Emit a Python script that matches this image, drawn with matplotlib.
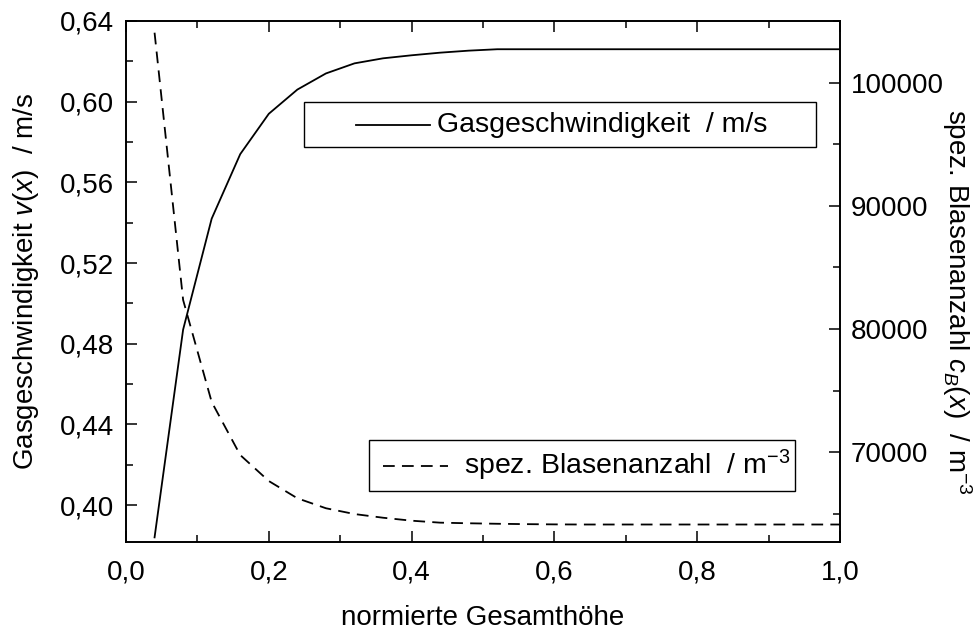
import matplotlib
matplotlib.use("Agg")
import matplotlib.pyplot as plt
from matplotlib.patches import Rectangle
from matplotlib.ticker import MultipleLocator, FuncFormatter

plt.rcParams['font.family'] = ['Liberation Sans', 'DejaVu Sans']
plt.rcParams['mathtext.fontset'] = 'custom'
plt.rcParams['mathtext.rm'] = 'Liberation Sans'
plt.rcParams['mathtext.it'] = 'Liberation Sans:italic'
plt.rcParams['font.size'] = 20

# normierte Gesamthoehe
hoehe = [0.04, 0.08, 0.12, 0.16, 0.20, 0.24, 0.28, 0.32, 0.36, 0.40,
         0.44, 0.48, 0.52, 0.56, 0.60, 0.64, 0.68, 0.72, 0.76, 0.80,
         0.84, 0.88, 0.92, 0.96, 1.00]
# Gasgeschwindigkeit / m/s
geschw = [0.384, 0.487, 0.542, 0.574, 0.594, 0.606, 0.614, 0.619, 0.6215, 0.623,
          0.6243, 0.6253, 0.626, 0.626, 0.626, 0.626, 0.626, 0.626, 0.626, 0.626,
          0.626, 0.626, 0.626, 0.626, 0.626]
# spez. Blasenanzahl / m^-3
blasen = [104050, 82350, 74070, 69760, 67650, 66250, 65440, 64970, 64670, 64430,
          64270, 64220, 64180, 64150, 64130, 64120, 64120, 64120, 64120, 64120,
          64120, 64120, 64120, 64120, 64120]

W, H = 980, 633
x0, x1, y0, y1 = 126, 840, 21, 542

fig = plt.figure(figsize=(W / 100, H / 100), dpi=100)
ax = fig.add_axes([x0 / W, 1 - y1 / H, (x1 - x0) / W, (y1 - y0) / H])
ax2 = ax.twinx()

dash = (6.5, 4.0)
ax.plot(hoehe, geschw, color='black', lw=1.3)
ax2.plot(hoehe, blasen, color='black', lw=1.3, dashes=dash)

ax.set_xlim(0, 1.0)
ax.set_ylim(0.3817, 0.64)
ax2.set_ylim(62700, 105000)

comma = FuncFormatter(lambda v, p: f"{v:.1f}".replace('.', ','))
comma2 = FuncFormatter(lambda v, p: f"{v:.2f}".replace('.', ','))
ax.xaxis.set_major_locator(MultipleLocator(0.2))
ax.xaxis.set_minor_locator(MultipleLocator(0.1))
ax.xaxis.set_major_formatter(comma)
ax.yaxis.set_major_locator(MultipleLocator(0.04))
ax.yaxis.set_minor_locator(MultipleLocator(0.02))
ax.yaxis.set_major_formatter(comma2)
ax.set_yticks([0.40, 0.44, 0.48, 0.52, 0.56, 0.60, 0.64])
ax2.yaxis.set_major_locator(MultipleLocator(10000))
ax2.yaxis.set_minor_locator(MultipleLocator(5000))

for a in (ax, ax2):
    for s in a.spines.values():
        s.set_linewidth(1.2)
ax.tick_params(which='both', direction='in', top=True, right=False, width=1.1, labelsize=20)
ax.tick_params(which='major', length=8)
ax.tick_params(which='minor', length=4.8)
ax.tick_params(axis='x', pad=12.5)
ax.tick_params(axis='y', pad=8.5)
ax2.tick_params(which='both', direction='in', width=1.1, labelsize=20, pad=8)
ax2.tick_params(which='major', length=8)
ax2.tick_params(which='minor', length=4.8)

ax.set_xlabel("normierte Gesamthöhe", fontsize=20)
ax.xaxis.set_label_coords(0.5, -0.145)
ax.xaxis.label.set_va('center')
ax.set_ylabel("Gasgeschwindigkeit $v(x)$  / m/s", fontsize=20)
ax.yaxis.set_label_coords(-0.14, 0.5)
ax.yaxis.label.set_va('center')
ax2.set_ylabel("spez. Blasenanzahl $c_B(x)$  / m$^{-3}$", fontsize=20, rotation=270)
ax2.yaxis.set_label_coords(1.164, 0.46)
ax2.yaxis.label.set_va('center')


def to_ax(px, py):
    return (px - x0) / (x1 - x0), (y1 - py) / (y1 - y0)


def legend_box(left, top, right, bottom, hx0, hx1, tx, text, style):
    (bx0, by0), (bx1, by1) = to_ax(left, bottom), to_ax(right, top)
    ax.add_patch(Rectangle((bx0, by0), bx1 - bx0, by1 - by0, transform=ax.transAxes,
                           fill=True, facecolor='white', edgecolor='black', lw=1.0, zorder=5))
    yc = (by0 + by1) / 2
    ln, = ax.plot([to_ax(hx0, 0)[0], to_ax(hx1, 0)[0]], [yc, yc], transform=ax.transAxes,
                  color='black', lw=1.3, zorder=6, clip_on=False)
    if style:
        ln.set_dashes(style)
    ax.text(to_ax(tx, 0)[0], yc, text, transform=ax.transAxes, va='center', ha='left',
            fontsize=20.5, zorder=6)


legend_box(304, 102, 816, 147, 356, 430, 437, "Gasgeschwindigkeit  / m/s", None)
legend_box(369, 440, 795, 491, 383, 448, 464, "spez. Blasenanzahl  / m$^{-3}$", dash)

fig.savefig("out.png", dpi=100)
